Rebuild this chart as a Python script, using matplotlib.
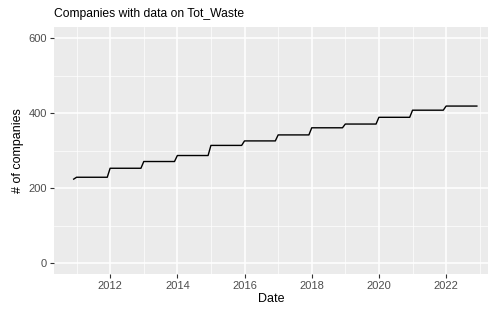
import datetime as dt
import matplotlib
matplotlib.use("Agg")
import matplotlib.pyplot as plt
import matplotlib.dates as mdates

# data: one count per calendar year (flat Jan -> Dec)
first_month = dt.date(2010, 12, 1)
first_count = 224
years = [2011, 2012, 2013, 2014, 2015, 2016, 2017, 2018, 2019, 2020, 2021, 2022]
counts = [229, 253, 271, 287, 314, 326, 342, 361, 371, 389, 408, 419]

# monthly series -> corner points of each yearly plateau
dates = [first_month]
values = [first_count]
for y, c in zip(years, counts):
    dates += [dt.date(y, 1, 1), dt.date(y, 12, 1)]
    values += [c, c]

plt.rcParams['font.family'] = ['Liberation Sans', 'DejaVu Sans']

fig = plt.figure(figsize=(4.89, 3.11), dpi=100)
ax = fig.add_axes([54/489, 1-274.3/311, 1-54/489, (274.3-27)/311])
ax.set_facecolor('#EBEBEB')
for s in ax.spines.values():
    s.set_visible(False)

ax.plot(dates, values, color='black', lw=1.0, zorder=3)

ax.set_xlim(dt.date(2010, 5, 1), dt.date(2023, 4, 12))
ax.set_ylim(-30, 630)
ax.set_yticks([0, 200, 400, 600])
ax.set_yticks([100, 300, 500], minor=True)
ax.xaxis.set_major_locator(mdates.YearLocator(2))
minor_years = [mdates.date2num(dt.date(y, 1, 1)) for y in range(2011, 2024, 2)]
ax.set_xticks(minor_years, minor=True)
ax.xaxis.set_major_formatter(mdates.DateFormatter('%Y'))

ax.grid(True, which='major', color='white', lw=1.1)
ax.grid(True, which='minor', color='white', lw=0.5)
ax.set_axisbelow(True)
ax.tick_params(which='major', length=3, width=0.8, color='#333333',
               labelsize=8, labelcolor='#4D4D4D', pad=2)
ax.tick_params(which='minor', length=0)

ax.set_xlabel('Date', fontsize=9, labelpad=1)
ax.set_ylabel('# of companies', fontsize=9, labelpad=3)
ax.set_title('Companies with data on Tot_Waste', fontsize=8.7, loc='left', pad=7)

fig.savefig('out.png', dpi=100)
